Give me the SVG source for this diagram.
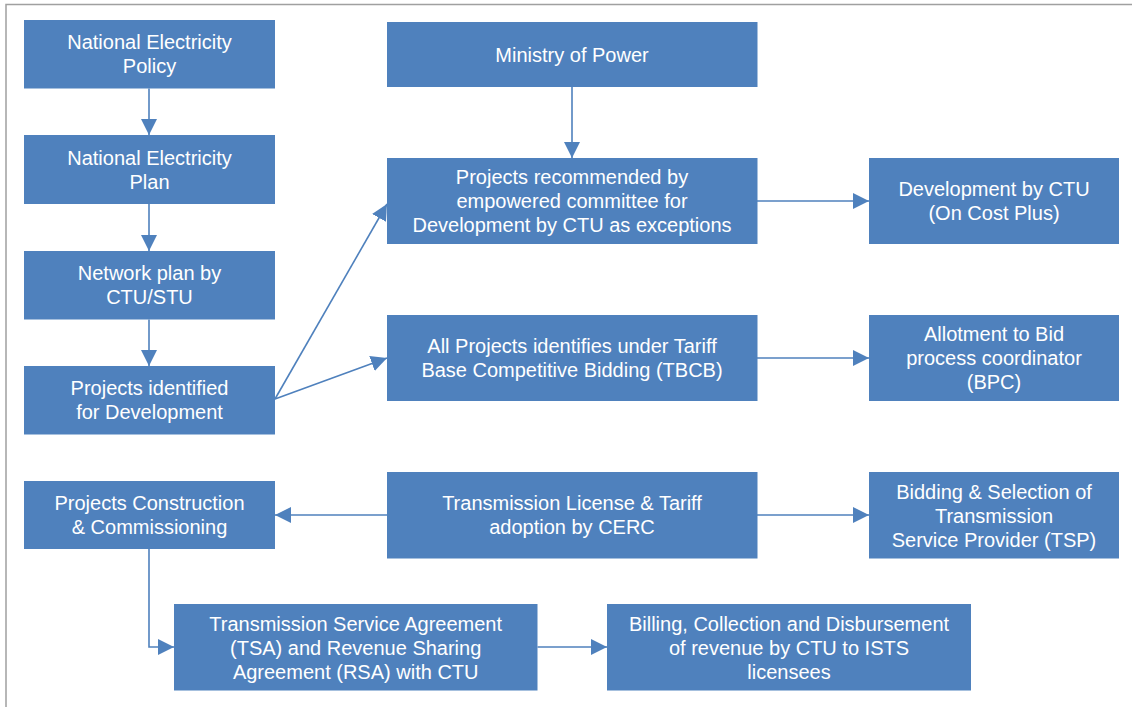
<svg xmlns="http://www.w3.org/2000/svg" width="1132" height="707" viewBox="0 0 1132 707">
<defs>
<style>
.box{fill:#4F81BD;}
.t{font-family:"Liberation Sans",Arial,sans-serif;font-size:20px;fill:#FFFFFF;text-anchor:middle;}
.c{stroke:#4F81BD;stroke-width:1.6;fill:none;}
.frame{stroke:#A0A0A0;stroke-width:1.5;fill:none;}
</style>
<marker id="ah" markerUnits="userSpaceOnUse" markerWidth="16" markerHeight="16" viewBox="0 0 14 14" refX="14" refY="7" orient="auto">
<path d="M0,0 L14,7 L0,14 Z" fill="#4F81BD"/>
</marker>
</defs>
<rect width="1132" height="707" fill="#FFFFFF"/>
<path class="frame" d="M6,707 L6,4.5 L1132,4.5"/>

<g id="connectors">
<line class="c" x1="149" y1="88.5" x2="149" y2="135" marker-end="url(#ah)"/>
<line class="c" x1="149" y1="204" x2="149" y2="251" marker-end="url(#ah)"/>
<line class="c" x1="149" y1="319.5" x2="149" y2="366" marker-end="url(#ah)"/>
<line class="c" x1="572" y1="87" x2="572" y2="158" marker-end="url(#ah)"/>
<line class="c" x1="275" y1="399" x2="387" y2="204" marker-end="url(#ah)"/>
<line class="c" x1="275" y1="399" x2="387" y2="358" marker-end="url(#ah)"/>
<line class="c" x1="757" y1="201" x2="869" y2="201" marker-end="url(#ah)"/>
<line class="c" x1="757" y1="358" x2="869" y2="358" marker-end="url(#ah)"/>
<line class="c" x1="387" y1="515" x2="275" y2="515" marker-end="url(#ah)"/>
<line class="c" x1="757" y1="515" x2="869" y2="515" marker-end="url(#ah)"/>
<polyline class="c" points="149,549 149,647 174,647" marker-end="url(#ah)"/>
<line class="c" x1="537.5" y1="647" x2="607" y2="647" marker-end="url(#ah)"/>
</g>

<g id="n-policy">
<rect class="box" x="24" y="20" width="251" height="68.5"/>
<text class="t" x="149.5" y="49.4">National Electricity</text>
<text class="t" x="149.5" y="73.4">Policy</text>
</g>
<g id="n-plan">
<rect class="box" x="24" y="135" width="251" height="69"/>
<text class="t" x="149.5" y="164.6">National Electricity</text>
<text class="t" x="149.5" y="188.6">Plan</text>
</g>
<g id="n-network">
<rect class="box" x="24" y="251" width="251" height="68.5"/>
<text class="t" x="149.5" y="280.4">Network plan by</text>
<text class="t" x="149.5" y="304.4">CTU/STU</text>
</g>
<g id="n-identified">
<rect class="box" x="24" y="366" width="251" height="68.5"/>
<text class="t" x="149.5" y="395.2">Projects identified</text>
<text class="t" x="149.5" y="419.2">for Development</text>
</g>
<g id="n-ministry">
<rect class="box" x="387" y="22" width="370.5" height="65"/>
<text class="t" x="572" y="61.6">Ministry of Power</text>
</g>
<g id="n-recommended">
<rect class="box" x="387" y="158" width="370.5" height="86"/>
<text class="t" x="572" y="184.2">Projects recommended by</text>
<text class="t" x="572" y="208.2">empowered committee for</text>
<text class="t" x="572" y="232.2">Development by CTU as exceptions</text>
</g>
<g id="n-devctu">
<rect class="box" x="869" y="158" width="250" height="86"/>
<text class="t" x="994" y="196.2">Development by CTU</text>
<text class="t" x="994" y="220.2">(On Cost Plus)</text>
</g>
<g id="n-tbcb">
<rect class="box" x="387" y="315" width="370.5" height="86"/>
<text class="t" x="572" y="353.2">All Projects identifies under Tariff</text>
<text class="t" x="572" y="377.2">Base Competitive Bidding (TBCB)</text>
</g>
<g id="n-bpc">
<rect class="box" x="869" y="315" width="250" height="86"/>
<text class="t" x="994" y="341.2">Allotment to Bid</text>
<text class="t" x="994" y="365.2">process coordinator</text>
<text class="t" x="994" y="389.2">(BPC)</text>
</g>
<g id="n-construction">
<rect class="box" x="24" y="481" width="251" height="68"/>
<text class="t" x="149.5" y="510.2">Projects Construction</text>
<text class="t" x="149.5" y="534.2">&amp; Commissioning</text>
</g>
<g id="n-license">
<rect class="box" x="387" y="472" width="370.5" height="86.5"/>
<text class="t" x="572" y="510.4">Transmission License &amp; Tariff</text>
<text class="t" x="572" y="534.4">adoption by CERC</text>
</g>
<g id="n-bidding">
<rect class="box" x="869" y="472" width="250" height="86.5"/>
<text class="t" x="994" y="498.5">Bidding &amp; Selection of</text>
<text class="t" x="994" y="522.5">Transmission</text>
<text class="t" x="994" y="546.5">Service Provider (TSP)</text>
</g>
<g id="n-tsa">
<rect class="box" x="174" y="604" width="363.5" height="86.5"/>
<text class="t" x="355.7" y="630.5">Transmission Service Agreement</text>
<text class="t" x="355.7" y="654.5">(TSA) and Revenue Sharing</text>
<text class="t" x="355.7" y="678.5">Agreement (RSA) with CTU</text>
</g>
<g id="n-billing">
<rect class="box" x="607" y="604" width="364" height="86.5"/>
<text class="t" x="789" y="630.5">Billing, Collection and Disbursement</text>
<text class="t" x="789" y="654.5">of revenue by CTU to ISTS</text>
<text class="t" x="789" y="678.5">licensees</text>
</g>
</svg>
